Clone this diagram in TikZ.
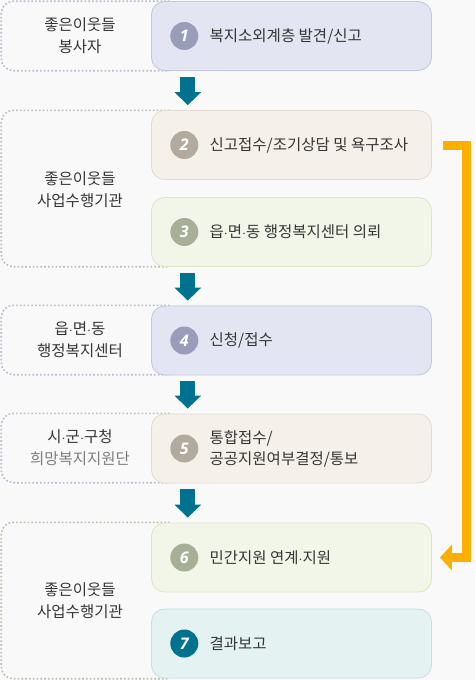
\documentclass[tikz,border=0pt]{standalone}
\usepackage{fontspec}
\setmainfont{Noto Sans CJK KR}
\newfontfamily\numfont{Open Sans}
\usetikzlibrary{arrows.meta, positioning, calc}
\definecolor{PageGray}{HTML}{F9F9F9}
\definecolor{InkGray}{HTML}{353535}
\definecolor{SoftGray}{HTML}{7E7E7E}
\definecolor{FlowTeal}{HTML}{00718F}
\definecolor{ReturnOrange}{HTML}{FBB000}
\definecolor{LavFill}{HTML}{E3E5F2}
\definecolor{LavLine}{HTML}{C3C6DD}
\definecolor{LavDot}{HTML}{9A9DB9}
\definecolor{SandFill}{HTML}{F5F1EA}
\definecolor{SandLine}{HTML}{E2DCD0}
\definecolor{SandDot}{HTML}{B2AA9E}
\definecolor{MossFill}{HTML}{F2F6E9}
\definecolor{MossLine}{HTML}{DCE5C5}
\definecolor{MossDot}{HTML}{A7AF97}
\definecolor{AquaFill}{HTML}{E5F2F2}
\definecolor{AquaLine}{HTML}{C4E0E0}

\tikzset{
  stagebox/.style={draw=#1Line, fill=#1Fill, line width=0.8pt, rounded corners=13pt,
                   minimum width=280pt, minimum height=69pt, inner sep=0pt},
  groupbox/.style={minimum width=168pt, inner sep=0pt},
  groupline/.style={draw=#1, line width=1.6pt, dash pattern=on 1.6pt off 2.2pt,
                    rounded corners=12pt},
  numdot/.style={circle, fill=#1, minimum size=28pt, inner sep=0pt, text=white,
                 font=\numfont\bfseries\itshape\fontsize{16}{16}\selectfont},
  stagetext/.style={inner sep=0pt, anchor=west, align=left, text=InkGray,
                    font=\fontsize{15.5}{21}\selectfont},
  grouptext/.style={inner sep=0pt, align=center, text=InkGray,
                    font=\fontsize{15.5}{22}\selectfont},
  flowarrow/.style={draw=FlowTeal, line width=15pt,
                    -{Triangle[width=26pt, length=13pt]}, shorten <=6pt, shorten >=5pt},
  returnarrow/.style={draw=ReturnOrange, line width=9pt, miter limit=10,
                      -{Triangle[width=25pt, length=12pt]}, shorten <=11pt, shorten >=8pt}
}

\begin{document}
\begin{tikzpicture}[x=1pt, y=-1pt]
    % page
    \fill[PageGray] (0,0) rectangle (475,680);
    \useasboundingbox (0,0) rectangle (475,680);

    % Groups on the left
    \node (g1) [groupbox, minimum height=69pt] at (85.5,36) {};
    \node (g2) [groupbox, minimum height=156pt] at (85.5,188.5) {};
    \node (g3) [groupbox, minimum height=69pt] at (85.5,340) {};
    \node (g4) [groupbox, minimum height=69pt] at (85.5,448) {};
    \node (g5) [groupbox, minimum height=156pt] at (85.5,600.5) {};
    \draw[groupline=LavLine!85!gray] (g1.north east) -| (g1.west) |- (g1.south east);
    \draw[groupline=SandDot!80!white] (g2.north east) -| (g2.west) |- (g2.south east);
    \draw[groupline=LavLine!85!gray] (g3.north east) -| (g3.west) |- (g3.south east);
    \draw[groupline=LavLine!85!gray] (g4.north east) -| (g4.west) |- (g4.south east);
    \draw[groupline=MossDot!80!white] (g5.north east) -| (g5.west) |- (g5.south east);

    \node (g1t) [grouptext] at (80,36) {좋은이웃들\\봉사자};
    \node (g2t) [grouptext] at (80,189.5) {좋은이웃들\\사업수행기관};
    \node (g3t) [grouptext] at (80,340) {읍$\cdot$면$\cdot$동\\행정복지센터};
    \node (g4t) [grouptext] at (80,447.5) {시$\cdot$군$\cdot$구청\\{\color{SoftGray}희망복지지원단}};
    \node (g5t) [grouptext] at (80,601) {좋은이웃들\\사업수행기관};

    % Stages
    \node (s1) [stagebox=Lav] at (291.5,36) {};
    \node (s2) [stagebox=Sand] at (291.5,145) {};
    \node (s3) [stagebox=Moss] at (291.5,232) {};
    \node (s4) [stagebox=Lav] at (291.5,340.5) {};
    \node (s5) [stagebox=Sand] at (291.5,448.5) {};
    \node (s6) [stagebox=Moss] at (291.5,557.5) {};
    \node (s7) [stagebox=Aqua] at (291.5,643.5) {};

    \node (c1) [numdot=LavDot, right=19pt of s1.west] {1};
    \node (c2) [numdot=SandDot, right=19pt of s2.west] {2};
    \node (c3) [numdot=MossDot, right=19pt of s3.west] {3};
    \node (c4) [numdot=LavDot, right=19pt of s4.west] {4};
    \node (c5) [numdot=SandDot, right=19pt of s5.west] {5};
    \node (c6) [numdot=MossDot, right=19pt of s6.west] {6};
    \node (c7) [numdot=FlowTeal, right=19pt of s7.west] {7};

    \node (t1) [stagetext, right=11pt of c1] {복지소외계층 발견/신고};
    \node (t2) [stagetext, right=11pt of c2] {신고접수/조기상담 및 욕구조사};
    \node (t3) [stagetext, right=11pt of c3] {읍$\cdot$면$\cdot$동 행정복지센터 의뢰};
    \node (t4) [stagetext, right=11pt of c4] {신청/접수};
    \node (t5) [stagetext, right=11pt of c5] {통합접수/\\공공지원여부결정/통보};
    \node (t6) [stagetext, right=11pt of c6] {민간지원 연계$\cdot$지원};
    \node (t7) [stagetext, right=11pt of c7] {결과보고};

    % Arrows
    \draw[flowarrow] ($(c1 |- s1.south)+(3.5,0)$) -- ($(c1 |- s2.north)+(3.5,0)$);
    \draw[flowarrow] ($(c3 |- s3.south)+(3.5,0)$) -- ($(c3 |- s4.north)+(3.5,0)$);
    \draw[flowarrow] ($(c4 |- s4.south)+(3.5,0)$) -- ($(c4 |- s5.north)+(3.5,0)$);
    \draw[flowarrow] ($(c5 |- s5.south)+(3.5,0)$) -- ($(c5 |- s6.north)+(3.5,0)$);
    \draw[returnarrow] (s2.east) -- ++(35,0) |- (s6.east);
\end{tikzpicture}
\end{document}
